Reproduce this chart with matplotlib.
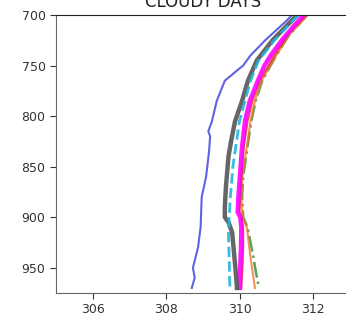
import matplotlib
matplotlib.use('Agg')
import matplotlib.pyplot as plt

# pressure levels (hPa) and temperature-like profiles (K)
blue_p = [700, 705, 715, 725, 740, 750, 755, 765, 785, 805, 815, 820, 835, 860, 880, 900, 910, 930, 950, 960, 970]
blue_x = [311.43, 311.3, 311.0, 310.7, 310.3, 310.1, 309.93, 309.6, 309.38, 309.25, 309.15, 309.2, 309.17,
          309.09, 308.97, 308.95, 308.94, 308.87, 308.73, 308.78, 308.7]

gray_p = [700, 725, 745, 765, 785, 805, 825, 840, 870, 890, 900, 905, 915, 935, 955, 970]
gray_x = [311.57, 310.9, 310.47, 310.23, 310.07, 309.88, 309.77, 309.7, 309.63, 309.6, 309.6, 309.7, 309.8,
          309.85, 309.9, 309.93]

cyan_p = [700, 725, 745, 765, 785, 805, 830, 850, 880, 900, 920, 940, 960, 970]
cyan_x = [311.6, 310.95, 310.52, 310.3, 310.15, 310.0, 309.9, 309.82, 309.75, 309.72, 309.7, 309.72, 309.73, 309.74]

mag_p = [700, 710, 725, 740, 750, 765, 785, 805, 830, 855, 880, 895, 900, 910, 930, 950, 970]
mag_x = [311.75, 311.5, 311.15, 310.85, 310.68, 310.5, 310.28, 310.15, 310.07, 310.02, 309.97, 309.95, 310.02,
         310.05, 310.04, 310.02, 310.01]

red_p = [700, 720, 740, 765, 785, 805, 830, 860, 880, 895, 900, 910, 930, 950, 970]
red_x = [311.8, 311.3, 310.95, 310.55, 310.35, 310.22, 310.12, 310.05, 310.02, 310.0, 310.05, 310.1, 310.1,
         310.08, 310.05]

orange_p = [700, 720, 740, 765, 785, 805, 830, 860, 880, 900, 910, 925, 940, 955, 970]
orange_x = [311.85, 311.35, 311.0, 310.6, 310.42, 310.3, 310.2, 310.08, 310.05, 310.08, 310.2, 310.25, 310.3,
            310.36, 310.42]

green_p = [700, 720, 740, 765, 785, 805, 830, 860, 880, 900, 910, 925, 940, 955, 970]
green_x = [311.85, 311.35, 311.0, 310.62, 310.44, 310.32, 310.22, 310.1, 310.07, 310.1, 310.22, 310.3, 310.38,
           310.45, 310.53]

fig = plt.figure(figsize=(3.46, 3.2), dpi=100)
ax = fig.add_axes([56 / 346, 27 / 320, 293.6 / 346, 278 / 320])

ax.plot(blue_x, blue_p, color='#3a3ae0', lw=1.5, alpha=0.8)
ax.plot(green_x, green_p, color='#2e8b2e', lw=1.8, ls='-.', alpha=0.8)
ax.plot(orange_x, orange_p, color='#f07830', lw=1.5, alpha=0.8)
ax.plot(red_x, red_p, color='#e02030', lw=1.5, alpha=0.8)
ax.plot(mag_x, mag_p, color='#ff00ff', lw=3.2, alpha=0.9)
ax.plot(gray_x, gray_p, color='#555555', lw=3.2, alpha=0.9)
ax.plot(cyan_x, cyan_p, color='#22b5dd', lw=2, ls='--', alpha=0.9)

ax.set_xlim(305, 313)
ax.set_ylim(975, 700)
ax.set_xticks([306, 308, 310, 312])
ax.set_yticks([700, 750, 800, 850, 900, 950])
ax.set_title('CLOUDY DAYS', fontsize=12, color='#222222')

for side in ['left', 'bottom']:
    ax.spines[side].set_color('#666666')
ax.spines['top'].set_color('#222222')
ax.tick_params(labelsize=9, colors='#333333', length=4)

fig.savefig('out.png', dpi=100)
